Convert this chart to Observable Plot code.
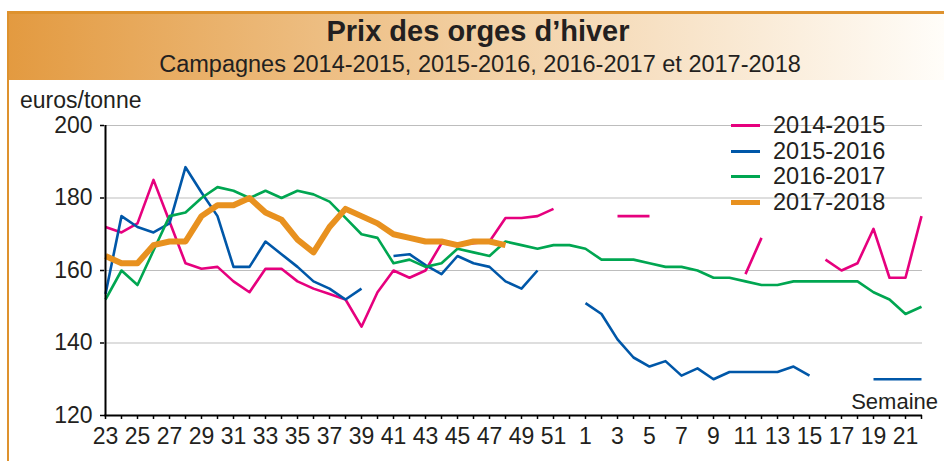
<!DOCTYPE html>
<html>
<head>
<meta charset="utf-8">
<script src="https://cdn.jsdelivr.net/npm/d3@7"></script>
<script src="https://cdn.jsdelivr.net/npm/@observablehq/plot@0.6"></script>
<style>
  html, body { margin: 0; padding: 0; background: #fff; }
  body { font-family: "Liberation Sans", Arial, sans-serif; color: #231f20; }
  #wrap { position: relative; width: 944px; height: 461px; overflow: hidden; }
  #leftBorder { position: absolute; left: 7px; top: 11px; width: 2px; height: 450px; background: #de922e; }
  #header { position: absolute; left: 7px; top: 11px; width: 937px; height: 66px;
    border-top: 3px solid #de922e;
    background: linear-gradient(to right, #e39a40 0%, #f2cfa2 50%, #fffdf9 100%); }
  #title { position: absolute; left: 0; width: 956px; top: 15px; text-align: center; font-weight: bold; font-size: 29px; line-height: 33px; }
  #subtitle { position: absolute; left: 0; width: 960px; top: 51px; text-align: center; font-size: 23.5px; line-height: 26px; }
  #ylabel { position: absolute; left: 20px; top: 87px; font-size: 23px; line-height: 26px; }
  #xlabel { position: absolute; right: 6px; top: 389px; font-size: 22px; line-height: 26px; }
  #chart { position: absolute; left: 0; top: 80px; }
  #legend { position: absolute; left: 731px; top: 112px; }
  .row { position: absolute; left: 0; height: 26px; width: 200px; }
  .sw { position: absolute; left: 0; width: 29px; }
  .lab { position: absolute; left: 42px; top: 0; font-size: 23.5px; line-height: 26px; white-space: nowrap; }
</style>
</head>
<body>
<div id="wrap">
  <div id="header"></div>
  <div id="leftBorder"></div>
  <div id="title">Prix des orges d’hiver</div>
  <div id="subtitle">Campagnes 2014-2015, 2015-2016, 2016-2017 et 2017-2018</div>
  <div id="chart"></div>
  <div id="ylabel">euros/tonne</div>
  <div id="xlabel">Semaine</div>
  <div id="legend"></div>
</div>
<script>
// Weeks of the marketing year (week 23 to week 22 of the next year)
const weeks = [23,24,25,26,27,28,29,30,31,32,33,34,35,36,37,38,39,40,41,42,43,44,45,46,47,48,49,50,51,52,
               1,2,3,4,5,6,7,8,9,10,11,12,13,14,15,16,17,18,19,20,21,22];

const seasons = ["2014-2015", "2015-2016", "2016-2017", "2017-2018"];
const colors  = ["#e6007e", "#0057a8", "#00a651", "#e8911f"];

// Prices (euros/tonne), null = no quotation
const p1415 = [172,170.5,173,185,173.5,162,160.5,161,157,154,160.5,160.5,157,155,153.5,152,144.5,154,160,158,160,167.5,167,167.5,168,174.5,174.5,175,177,null,
               null,null,175,175,175,null,null,null,null,null,159,169,null,null,null,163,160,162,171.5,158,158,175];
const p1516 = [153.5,175,172,170.5,173,188.5,181.5,175,161,161,168,164.5,161,157,155,152,155,null,164,164.5,161.5,159,164,162,161,157,155,160,null,null,
               151,148,141,136,133.5,135,131,133,130,132,132,132,132,133.5,131,null,null,null,130,130,130,130];
const p1617 = [152,160,156,165.5,175,176,180,183,182,180,182,180,182,181,179,174.5,170,169,162,163,161,162,166,165,164,168,167,166,167,167,
               166,163,163,163,162,161,161,160,158,158,157,156,156,157,157,157,157,157,154,152,148,150];
const p1718 = [164,162,162,167,168,168,175,178,178,180,176,174,168.5,165,172,177,175,173,170,169,168,168,167,168,168,167,null,null,null,null,
               null,null,null,null,null,null,null,null,null,null,null,null,null,null,null,null,null,null,null,null,null,null];

const yTicks = [120, 140, 160, 180, 200];

const seriesValues = [p1415, p1516, p1617, p1718];
const widths = [2.6, 2.6, 2.6, 6];

const rows = seasons.flatMap((s, k) => weeks.map((w, i) => ({season: s, week: w, price: seriesValues[k][i]})));

const lines = seasons.map((s, k) => Plot.line(rows.filter(d => d.season === s), {
  x: "week", y: "price", stroke: colors[k], strokeWidth: widths[k],
  strokeLinejoin: "round", strokeLinecap: "butt"
}));

const chart = Plot.plot({
  width: 944,
  height: 381,
  marginLeft: 104,
  marginRight: 22,
  marginTop: 45,
  marginBottom: 46,
  style: {fontFamily: "'Liberation Sans', Arial, sans-serif", color: "#231f20", background: "transparent", overflow: "visible"},
  x: {type: "point", domain: weeks, padding: 0},
  y: {domain: [120, 200]},
  marks: [
    Plot.gridY(yTicks.filter(t => t > 120), {stroke: "#bdbdbd", strokeOpacity: 1, strokeWidth: 1.2}),
    ...lines,
    Plot.ruleY([120], {stroke: "#000", strokeWidth: 2}),
    Plot.ruleX([weeks[0]], {stroke: "#000", strokeWidth: 2}),
    Plot.axisY(yTicks, {tickSize: 4, tickPadding: 8, fontSize: 23, label: null, stroke: "#000", strokeWidth: 1.5}),
    Plot.axisX(weeks, {tickSize: 4, tickPadding: 8, fontSize: 23, label: null, stroke: "#000", strokeWidth: 1.5,
      tickFormat: d => (d % 2 === 1 ? String(d) : "")})
  ]
});
document.getElementById("chart").appendChild(chart);

// Legend
const legend = document.getElementById("legend");
const rowTops = [0, 26, 51, 77];
seasons.forEach((s, k) => {
  const r = document.createElement("div");
  r.className = "row";
  r.style.top = rowTops[k] + "px";
  const sw = document.createElement("div");
  sw.className = "sw";
  const h = k === 3 ? 5 : 3;
  sw.style.height = h + "px";
  sw.style.top = (13 - h / 2) + "px";
  sw.style.background = colors[k];
  const lab = document.createElement("div");
  lab.className = "lab";
  lab.textContent = s;
  r.appendChild(sw);
  r.appendChild(lab);
  legend.appendChild(r);
});
</script>
</body>
</html>
